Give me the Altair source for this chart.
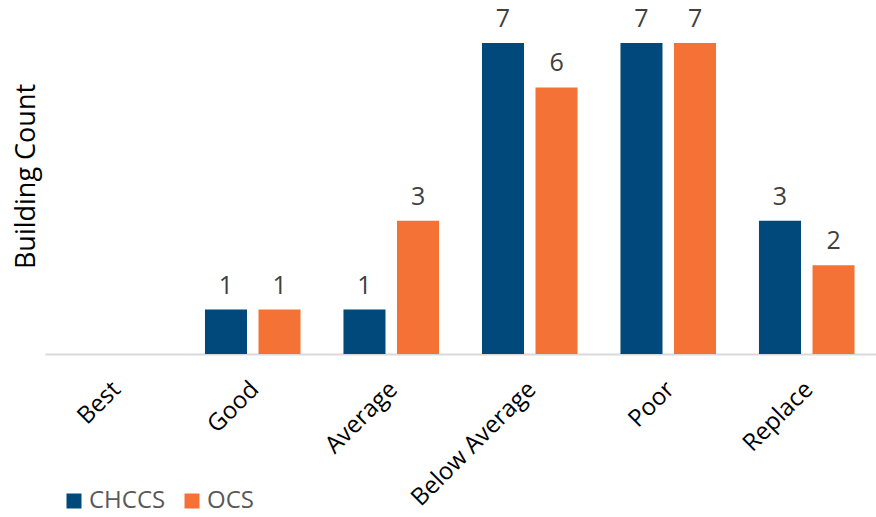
import altair as alt
import pandas as pd

categories = ["Best", "Good", "Average", "Below Average", "Poor", "Replace"]
chccs = [0, 1, 1, 7, 7, 3]
ocs = [0, 1, 3, 6, 7, 2]
series = ["CHCCS", "OCS"]
colors = ["#00497A", "#F47236"]

rows = []
for c, a, b in zip(categories, chccs, ocs):
    rows.append({"cat": c, "series": "CHCCS", "value": a})
    rows.append({"cat": c, "series": "OCS", "value": b})
df = pd.DataFrame(rows)

FONT = "Open Sans"

x = alt.X("cat:N", sort=categories,
          scale=alt.Scale(paddingInner=0.31, paddingOuter=0.155),
          axis=alt.Axis(title=None, labelAngle=-45, labelAlign="right",
                        labelBaseline="top", labelPadding=23, labelOffset=-6,
                        labelFontSize=24,
                        labelFont=FONT, labelColor="#000000", ticks=False,
                        domainColor="#D9D9D9", domainWidth=2, labelLimit=300,
                        grid=False))
xo = alt.XOffset("series:N", sort=series, scale=alt.Scale(paddingInner=0.215))
y = alt.Y("value:Q", scale=alt.Scale(domain=[0, 7], nice=False, zero=True),
          axis=alt.Axis(title="Building Count", labels=False, ticks=False,
                        domain=False, grid=False, titleFontSize=27,
                        titleFont=FONT, titleFontWeight="normal",
                        titleColor="#000000", titleX=-19, titleY=133,
                        titleBaseline="middle", titleAnchor="middle"))

bars = alt.Chart(df).mark_bar().encode(
    x=x, xOffset=xo, y=y,
    color=alt.Color("series:N", sort=series,
                    scale=alt.Scale(domain=series, range=colors),
                    legend=alt.Legend(title=None, orient="none", direction="horizontal",
                                      legendX=17, legendY=446, symbolType="square",
                                      symbolSize=225, symbolStrokeWidth=0,
                                      labelFontSize=24, labelFont=FONT,
                                      labelColor="#595959", columnPadding=14,
                                      symbolOffset=0, padding=0, labelOffset=3)),
)

labels = alt.Chart(df).transform_filter("datum.value > 0").mark_text(
    baseline="alphabetic", dy=-16, fontSize=25, font=FONT, color="#404040"
).encode(x=x, xOffset=xo, y=y, text=alt.Text("value:Q"))

chart = alt.layer(bars, labels).properties(
    width=831, height=311,
    padding={"left": 45, "top": 43, "right": 0, "bottom": 163},
    autosize=alt.AutoSizeParams(type="none"),
    background="#FFFFFF",
).configure_view(strokeWidth=0, stroke=None)

chart.save("out.html", embed_options={"renderer": "svg", "actions": False})
